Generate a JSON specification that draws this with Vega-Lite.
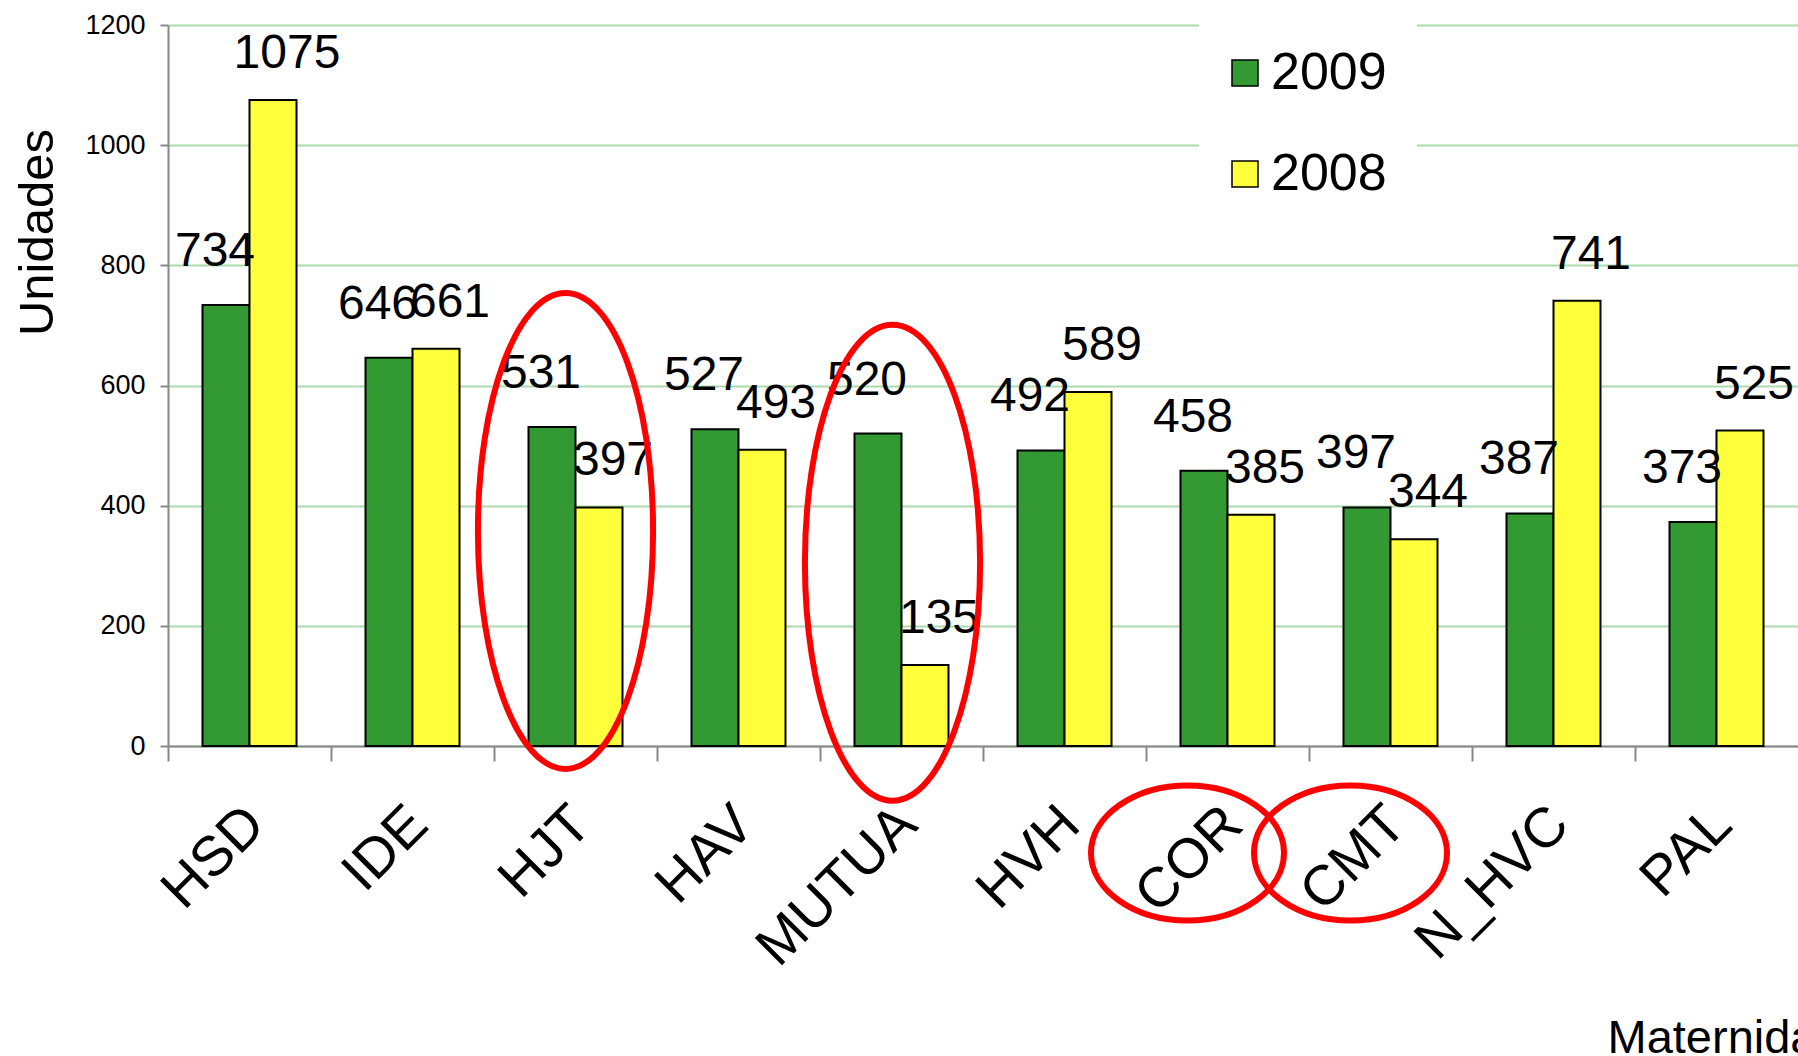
{
  "$schema": "https://vega.github.io/schema/vega-lite/v6.json",
  "autosize": {"type": "none"},
  "width": 1630,
  "height": 721,
  "padding": {"left": 168, "top": 25, "right": 0, "bottom": 310},
  "background": "white",
  "config": {
    "view": {"stroke": null},
    "font": "Liberation Sans",
    "text": {"font": "Liberation Sans"}
  },
  "datasets": {
    "unidades": [
      {"Maternidad": "HSD", "Año": "2009", "Unidades": 734},
      {"Maternidad": "HSD", "Año": "2008", "Unidades": 1075},
      {"Maternidad": "IDE", "Año": "2009", "Unidades": 646},
      {"Maternidad": "IDE", "Año": "2008", "Unidades": 661},
      {"Maternidad": "HJT", "Año": "2009", "Unidades": 531},
      {"Maternidad": "HJT", "Año": "2008", "Unidades": 397},
      {"Maternidad": "HAV", "Año": "2009", "Unidades": 527},
      {"Maternidad": "HAV", "Año": "2008", "Unidades": 493},
      {"Maternidad": "MUTUA", "Año": "2009", "Unidades": 520},
      {"Maternidad": "MUTUA", "Año": "2008", "Unidades": 135},
      {"Maternidad": "HVH", "Año": "2009", "Unidades": 492},
      {"Maternidad": "HVH", "Año": "2008", "Unidades": 589},
      {"Maternidad": "COR", "Año": "2009", "Unidades": 458},
      {"Maternidad": "COR", "Año": "2008", "Unidades": 385},
      {"Maternidad": "CMT", "Año": "2009", "Unidades": 397},
      {"Maternidad": "CMT", "Año": "2008", "Unidades": 344},
      {"Maternidad": "N_HVC", "Año": "2009", "Unidades": 387},
      {"Maternidad": "N_HVC", "Año": "2008", "Unidades": 741},
      {"Maternidad": "PAL", "Año": "2009", "Unidades": 373},
      {"Maternidad": "PAL", "Año": "2008", "Unidades": 525}
    ]
  },
  "encoding": {
    "x": {
      "field": "Maternidad",
      "type": "nominal",
      "sort": null,
      "scale": {
        "domain": ["HSD", "IDE", "HJT", "HAV", "MUTUA", "HVH", "COR", "CMT", "N_HVC", "PAL"],
        "paddingInner": 0,
        "paddingOuter": 0
      },
      "axis": {
        "title": "Maternidades",
        "bandPosition": 0,
        "labelAngle": -45,
        "labelAlign": "right",
        "labelBaseline": "top",
        "labelFontSize": 56,
        "labelColor": "black",
        "labelPadding": 35,
        "labelOffset": -13,
        "labelLimit": 400,
        "tickSize": 15,
        "tickColor": "#888888",
        "tickWidth": 2,
        "domainColor": "#888888",
        "domainWidth": 2,
        "grid": false,
        "titleFontSize": 47,
        "titleFontWeight": "normal",
        "titleColor": "black",
        "titleX": 1439,
        "titleY": 306,
        "titleAlign": "left",
        "titleBaseline": "alphabetic"
      }
    }
  },
  "layer": [
    {
      "data": {"name": "unidades"},
      "mark": {"type": "bar", "stroke": "black", "strokeWidth": 2},
      "encoding": {
        "y": {
          "field": "Unidades",
          "type": "quantitative",
          "scale": {"domain": [0, 1200], "nice": false, "zero": true},
          "axis": {
            "title": "Unidades",
            "values": [0, 200, 400, 600, 800, 1000, 1200],
            "format": "d",
            "grid": true,
            "gridColor": "#addaad",
            "gridWidth": 2,
            "domainColor": "#888888",
            "domainWidth": 2,
            "tickColor": "#888888",
            "tickWidth": 2,
            "tickSize": 8,
            "labelFontSize": 27,
            "labelColor": "black",
            "labelPadding": 15,
            "titleFontSize": 49,
            "titleFontWeight": "normal",
            "titleColor": "black",
            "titleAngle": 270,
            "titleX": -116,
            "titleY": 207,
            "titleAlign": "center",
            "titleBaseline": "alphabetic"
          }
        },
        "xOffset": {
          "field": "Año",
          "type": "nominal",
          "sort": ["2009", "2008"],
          "scale": {"domain": ["2009", "2008"], "paddingInner": 0, "paddingOuter": 0.734}
        },
        "color": {
          "field": "Año",
          "type": "nominal",
          "scale": {"domain": ["2009", "2008"], "range": ["#339933", "#ffff3c"]},
          "legend": {
            "title": null,
            "orient": "none",
            "legendX": 1031,
            "legendY": -8,
            "fillColor": "white",
            "padding": 30,
            "symbolType": "square",
            "symbolSize": 676,
            "symbolOffset": -10,
            "symbolStrokeColor": "black",
            "symbolStrokeWidth": 1.5,
            "labelFontSize": 52,
            "labelColor": "black",
            "labelOffset": 0,
            "rowPadding": 49
          }
        }
      }
    },
    {
      "data": {"name": "unidades"},
      "transform": [{"filter": "datum['Año'] == '2009'"}],
      "mark": {"type": "text", "fontSize": 48, "color": "black", "align": "center", "baseline": "middle", "dy": -53, "dx": -11},
      "encoding": {
        "y": {"field": "Unidades", "type": "quantitative"},
        "xOffset": {"field": "Año", "type": "nominal", "sort": ["2009", "2008"]},
        "text": {"field": "Unidades", "type": "quantitative"}
      }
    },
    {
      "data": {"name": "unidades"},
      "transform": [{"filter": "datum['Año'] == '2008'"}],
      "mark": {"type": "text", "fontSize": 48, "color": "black", "align": "center", "baseline": "middle", "dy": -46, "dx": 14},
      "encoding": {
        "y": {"field": "Unidades", "type": "quantitative"},
        "xOffset": {"field": "Año", "type": "nominal", "sort": ["2009", "2008"]},
        "text": {"field": "Unidades", "type": "quantitative"}
      }
    },
    {
      "data": {"values": [{"Maternidad": "HJT"}]},
      "mark": {"type": "point", "filled": false, "stroke": "#ff0000", "color": "#ff0000", "strokeWidth": 6, "opacity": 1, "strokeOpacity": 1, "size": 226576, "xOffset": -10, "shape": "M 0.368 0 C 0.368 0.5523 0.2032 1 0 1 C -0.2032 1 -0.368 0.5523 -0.368 0 C -0.368 -0.5523 -0.2032 -1 0 -1 C 0.2032 -1 0.368 -0.5523 0.368 0 Z"},
      "encoding": {"y": {"datum": 358, "type": "quantitative"}}
    },
    {
      "data": {"values": [{"Maternidad": "MUTUA"}]},
      "mark": {"type": "point", "filled": false, "stroke": "#ff0000", "color": "#ff0000", "strokeWidth": 6, "opacity": 1, "strokeOpacity": 1, "size": 226576, "xOffset": -9, "shape": "M 0.368 0 C 0.368 0.5523 0.2032 1 0 1 C -0.2032 1 -0.368 0.5523 -0.368 0 C -0.368 -0.5523 -0.2032 -1 0 -1 C 0.2032 -1 0.368 -0.5523 0.368 0 Z"},
      "encoding": {"y": {"datum": 305, "type": "quantitative"}}
    },
    {
      "data": {"values": [{"Maternidad": "COR"}, {"Maternidad": "CMT"}]},
      "mark": {"type": "point", "filled": false, "stroke": "#ff0000", "color": "#ff0000", "strokeWidth": 6, "opacity": 1, "strokeOpacity": 1, "size": 37249, "xOffset": -40, "shape": "M 1 0 C 1 0.3866 0.5523 0.7 0 0.7 C -0.5523 0.7 -1 0.3866 -1 0 C -1 -0.3866 -0.5523 -0.7 0 -0.7 C 0.5523 -0.7 1 -0.3866 1 0 Z"},
      "encoding": {"y": {"datum": -178, "type": "quantitative"}}
    }
  ]
}
